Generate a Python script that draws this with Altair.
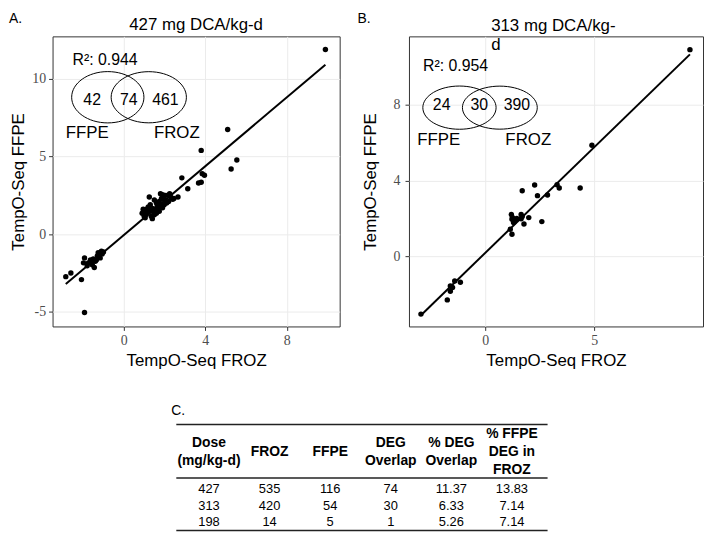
import altair as alt
import pandas as pd

# ---------------- Panel A (427 mg DCA/kg-d) ----------------
a_froz = [9.9, 5.1, 5.55, 5.27, 3.8, 3.96, 3.85, 3.67, 3.8, 3.14, 2.85, 2.66, 2.46, 2.3,
          2.07, 1.9, 1.25, 1.5, 1.74, 2.2, 1.98, 1.1, 1.0, 1.25, 1.4, 1.64, 1.84, 1.1,
          1.35, 1.6, 1.74, 1.0, 1.4, 1.55, 1.2, 1.85, 2.0, 1.7, 2.1, 0.95, 1.3, 1.45,
          1.9, 2.4, 1.15, 1.6, 2.25, 1.05, 1.8, 1.5, 2.0, 0.9, 1.35,
          -2.85, -2.6, -2.08, -1.93, -1.98, -1.74, -1.55, -1.45, -1.5, -1.3, -1.26,
          -1.06, -1.16, -1.0, -1.35, -1.8, -1.64, -1.93, -1.2, -1.4, -1.1]
a_ffpe = [11.9, 6.75, 4.78, 4.2, 5.4, 3.8, 3.9, 3.3, 3.35, 2.93, 3.63, 2.4, 2.3, 2.4,
          2.5, 2.55, 2.4, 2.2, 2.1, 2.1, 1.9, 1.6, 1.47, 1.47, 1.66, 1.8, 1.85, 1.27,
          1.15, 1.35, 1.47, 1.15, 1.0, 1.6, 1.75, 2.3, 2.2, 1.65, 2.0, 1.6, 1.9, 1.45,
          1.7, 2.25, 1.4, 2.0, 2.6, 1.05, 2.6, 1.25, 2.5, 1.35, 1.55,
          -2.74, -2.5, -2.93, -1.53, -1.85, -1.85, -1.97, -2.15, -1.6, -1.4, -1.2,
          -1.27, -1.53, -1.15, -1.66, -2.04, -1.66, -5.05, -1.35, -1.75, -1.1]

# ---------------- Panel B (313 mg DCA/kg-d) ----------------
b_froz = [9.4, 4.9, 3.3, 3.4, 4.36, 2.27, 1.7, 2.4, 2.86, 2.6, 2.0, 1.2, 1.23, 1.3,
          1.65, 1.65, 1.78, 1.15, 1.23, 1.45, 1.7, 1.35, -2.95, -1.74, -1.6, -1.6,
          -1.4, -1.14, -1.5, 1.25]
b_ffpe = [10.9, 5.86, 3.77, 3.6, 3.6, 3.76, 3.46, 3.2, 3.23, 1.83, 2.04, 2.2, 1.95,
          1.78, 2.2, 1.98, 1.7, 1.43, 1.16, 2.0, 2.1, 1.85, -3.05, -2.3, -1.84, -1.57,
          -1.3, -1.37, -1.65, 2.05]

venn_a = ["42", "74", "461"]
venn_b = ["24", "30", "390"]
r2_a = "R²: 0.944"
r2_b = "R²: 0.954"

# ---------------- Table C ----------------
table_header = [["Dose", "(mg/kg-d)"], ["FROZ"], ["FFPE"], ["DEG", "Overlap"],
                ["% DEG", "Overlap"], ["% FFPE", "DEG in", "FROZ"]]
t_dose = ["427", "313", "198"]
t_froz = ["535", "420", "14"]
t_ffpe = ["116", "54", "5"]
t_overlap = ["74", "30", "1"]
t_pct_overlap = ["11.37", "6.33", "5.26"]
t_pct_ffpe = ["13.83", "7.14", "7.14"]

SANS = "Liberation Sans"
SERIF = "Liberation Serif"
ONE = pd.DataFrame({"a": [0]})


def txt(s, x, y, size=16, align="center", baseline="middle", weight="normal", lh=None):
    kw = dict(text=s, font=SANS, fontSize=size, align=align, baseline=baseline,
              fontWeight=weight, color="black")
    if lh is not None:
        kw["lineBreak"] = "\n"
        kw["lineHeight"] = lh
    return alt.Chart(ONE).mark_text(**kw).encode(x=alt.value(x), y=alt.value(y))


def ellipse(x, y, rx, ratio):
    path = f"M -1 0 A 1 {ratio} 0 1 1 1 0 A 1 {ratio} 0 1 1 -1 0 Z"
    return alt.Chart(ONE).mark_point(shape=path, size=(2 * rx) ** 2, filled=False,
                                     stroke="black", strokeWidth=1, opacity=1).encode(
        x=alt.value(x), y=alt.value(y))


def scatter(froz, ffpe, xdom, ydom, xticks, yticks, lab_pad_y, title_pad_y):
    df = pd.DataFrame({"froz": froz, "ffpe": ffpe})
    base = alt.Chart(df)
    xs = alt.Scale(domain=xdom, nice=False, zero=False)
    ys = alt.Scale(domain=ydom, nice=False, zero=False)
    pts = base.mark_circle(size=30, color="black", opacity=1).encode(
        x=alt.X("froz:Q", scale=xs,
                axis=alt.Axis(values=xticks, title="TempO-Seq FROZ", labelPadding=3,
                              titlePadding=5, labelFont=SERIF,
                              labelExpr="'' + datum.value")),
        y=alt.Y("ffpe:Q", scale=ys,
                axis=alt.Axis(values=yticks, title="TempO-Seq FFPE", labelFont=SERIF,
                              labelPadding=lab_pad_y, titlePadding=title_pad_y,
                              labelExpr="'' + datum.value")),
    )
    line = base.transform_regression("froz", "ffpe").mark_line(
        color="black", strokeWidth=2).encode(x=alt.X("froz:Q", scale=xs),
                                              y=alt.Y("ffpe:Q", scale=ys))
    return line + pts


# ---- Panel A ----
plot_a = alt.layer(
    scatter(a_froz, a_ffpe, [-3.5, 10.6], [-5.95, 12.75], [0, 4, 8], [-5, 0, 5, 10], 3, 4),
    ellipse(55.8, 61.5, 36.5, 0.71),
    ellipse(97.2, 61.5, 38, 0.68),
    txt(r2_a, 53, 24),
    txt(venn_a[0], 40, 64),
    txt(venn_a[1], 77, 64),
    txt(venn_a[2], 114, 64),
    txt("FFPE", 35, 98, size=17),
    txt("FROZ", 125.5, 98, size=17),
    txt("427 mg DCA/kg-d", 145, -6, size=17, baseline="alphabetic"),
    txt("A.", -44, -25, size=14, align="left", baseline="top"),
    txt("C.", 120, 371, size=14, align="left", baseline="top"),
)

# table layer (independent scales, no axes)
rows = [t_dose, t_froz, t_ffpe, t_overlap, t_pct_overlap, t_pct_ffpe]
cells = pd.DataFrame([
    {"ci": ci, "ri": ri, "t": col[ri]} for ci, col in enumerate(rows) for ri in range(3)
])
hdr = pd.DataFrame([
    {"ci": ci, "li": li - (len(lines) - 1) / 2, "t": s}
    for ci, lines in enumerate(table_header) for li, s in enumerate(lines)
])
tx = alt.Scale(domain=[0, 5], range=[158, 464])
table_layer = alt.layer(
    alt.Chart(hdr).mark_text(font=SANS, fontSize=14, fontWeight="bold",
                             baseline="middle", color="black").encode(
        x=alt.X("ci:Q", scale=tx, axis=None),
        y=alt.Y("li:Q", scale=alt.Scale(domain=[-1, 1], range=[402, 438]), axis=None),
        text="t:N"),
    alt.Chart(cells).mark_text(font=SANS, fontSize=13, baseline="middle",
                               color="black").encode(
        x=alt.X("ci:Q", scale=tx, axis=None),
        y=alt.Y("ri:Q", scale=alt.Scale(domain=[0, 2], range=[457, 491]), axis=None),
        text="t:N"),
    alt.Chart(ONE).mark_rule(color="#222222", strokeWidth=1.5).encode(
        x=alt.value(125), x2=alt.value(500), y=alt.value(392)),
    alt.Chart(ONE).mark_rule(color="#222222", strokeWidth=1.5).encode(
        x=alt.value(125), x2=alt.value(500), y=alt.value(446)),
    alt.Chart(ONE).mark_rule(color="#222222", strokeWidth=1.5).encode(
        x=alt.value(125), x2=alt.value(500), y=alt.value(499)),
).resolve_scale(y="independent")

panel_a = alt.layer(plot_a, table_layer).resolve_scale(
    x="independent", y="independent").properties(width=290, height=293)

# ---- Panel B ----
panel_b = alt.layer(
    scatter(b_froz, b_ffpe, [-3.5, 10.0], [-3.7, 11.6], [0, 5], [0, 4, 8], 5, 14),
    ellipse(51, 72, 37, 0.59),
    ellipse(91.8, 72, 37.8, 0.575),
    txt(r2_b, 47, 30),
    txt(venn_b[0], 33, 69),
    txt(venn_b[1], 71, 69),
    txt(venn_b[2], 109, 69),
    txt("FFPE", 30, 105, size=17),
    txt("FROZ", 120.5, 105, size=17),
    txt("313 mg DCA/kg-\nd", 83, -5, size=17, align="left", baseline="alphabetic", lh=19),
    txt("B.", -52, -25, size=14, align="left", baseline="top"),
).properties(width=297, height=293)

chart = alt.hconcat(panel_a, panel_b, spacing=70, bounds="flush").properties(
    padding=0
).configure_view(stroke="#333333", strokeWidth=1).configure_axis(
    grid=True, gridColor="#ebebeb", gridWidth=1, domain=False, tickColor="#333333",
    tickSize=4, labelFont=SERIF, labelFontSize=14, labelColor="#4d4d4d",
    titleFont=SANS, titleFontSize=17, titleFontWeight="normal", titleColor="black",
)

chart.save("out.html", embed_options={"renderer": "svg", "actions": False})
